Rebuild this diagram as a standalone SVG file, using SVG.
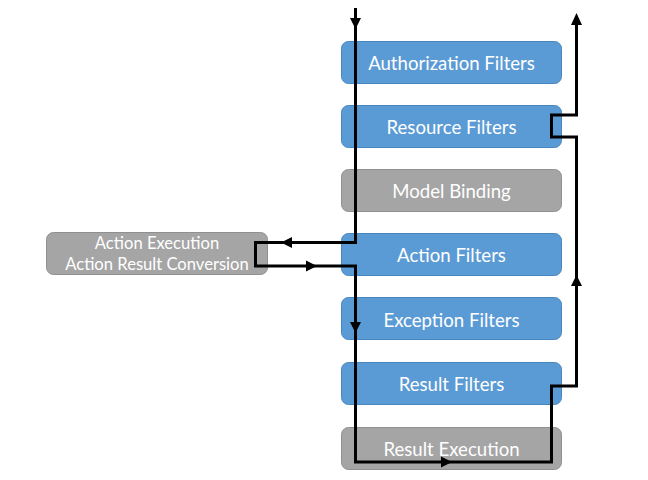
<svg xmlns="http://www.w3.org/2000/svg" width="648" height="480" viewBox="0 0 648 480">
<style>
.blue{fill:#5B9BD5;stroke:#4A86BE;stroke-width:1}
.gray{fill:#A5A5A5;stroke:#909090;stroke-width:1}
.t{font-family:Lato,"Open Sans",sans-serif;font-size:18.6px;fill:#fff;text-anchor:middle}
.ts{font-family:Lato,"Open Sans",sans-serif;font-size:16.6px;fill:#fff;text-anchor:middle}
.ln{fill:none;stroke:#000;stroke-width:3;stroke-linejoin:miter}
</style>
<rect width="648" height="480" fill="#fff"/>
<g id="auth"><rect class="blue" x="341.5" y="41.5" width="220" height="42" rx="7"/><text class="t" x="451.5" y="69.5">Authorization Filters</text></g>
<g id="resource"><rect class="blue" x="341.5" y="105.5" width="220" height="42" rx="7"/><text class="t" x="451.5" y="133.5">Resource Filters</text></g>
<g id="model"><rect class="gray" x="341.5" y="169.5" width="220" height="42" rx="7"/><text class="t" x="451.5" y="197.5">Model Binding</text></g>
<g id="action"><rect class="blue" x="341.5" y="233.5" width="220" height="42" rx="7"/><text class="t" x="451.5" y="261.5">Action Filters</text></g>
<g id="exception"><rect class="blue" x="341.5" y="297.5" width="220" height="42" rx="7"/><text class="t" x="451.5" y="326.5">Exception Filters</text></g>
<g id="resultf"><rect class="blue" x="341.5" y="362.5" width="220" height="42" rx="7"/><text class="t" x="451.5" y="390.5">Result Filters</text></g>
<g id="resultx"><rect class="gray" x="341.5" y="427.5" width="220" height="42" rx="7"/><text class="t" x="451.5" y="456">Result Execution</text></g>
<g id="exec"><rect class="gray" x="46.5" y="232.5" width="221" height="42" rx="7"/><text class="ts" x="157" y="249">Action Execution</text><text class="ts" x="157" y="270">Action Result Conversion</text></g>
<g id="connectors">
<path class="ln" d="M355.5,8 V242.5 H255.5 V266 H355.5 V462 H551.5 V386 H576.5 V137 H551.5 V115 H576.5 V16"/>
<path d="M350,18 L361,18 L355.5,29 z" fill="#000"/>
<path d="M292,237 L292,248 L281,242.5 z" fill="#000"/>
<path d="M306,260.5 L306,271.5 L317,266 z" fill="#000"/>
<path d="M350,322 L361,322 L355.5,333 z" fill="#000"/>
<path d="M441,456.5 L441,467.5 L452,462 z" fill="#000"/>
<path d="M571,286 L582,286 L576.5,275 z" fill="#000"/>
<path d="M571,25 L582,25 L576.5,13 z" fill="#000"/>
</g>
</svg>
